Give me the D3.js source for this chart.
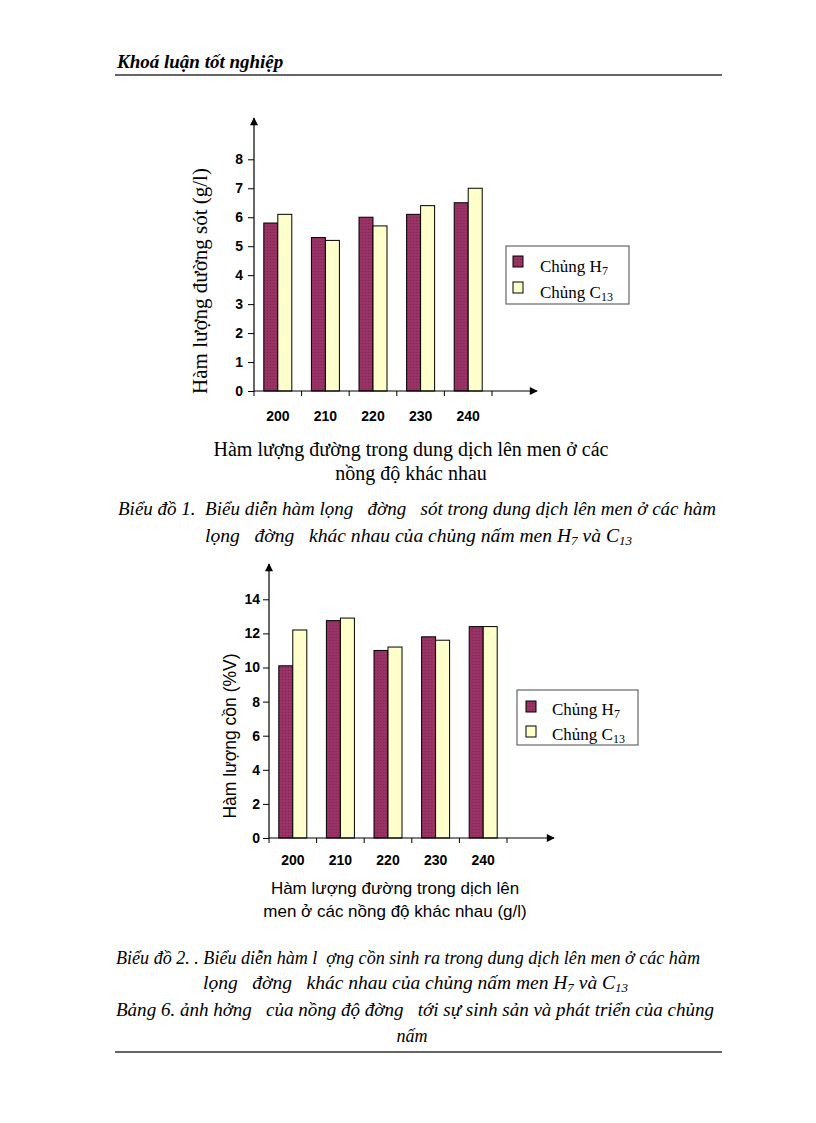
<!DOCTYPE html>
<html><head><meta charset="utf-8">
<script src="https://cdn.jsdelivr.net/npm/d3@7"></script>
<style>body{margin:0;background:#fff}svg{display:block}</style>
</head><body>
<svg id="page" width="816" height="1123"></svg>
<script>
const categories = ["200","210","220","230","240"];
const seriesNames = ["H7","C13"];
const h7Sugar = [5.8,5.3,6.0,6.1,6.5];
const c13Sugar = [6.1,5.2,5.7,6.4,7.0];
const sugarTicks = [0,1,2,3,4,5,6,7,8];
const h7Alcohol = [10.1,12.75,11.0,11.8,12.4];
const c13Alcohol = [12.2,12.9,11.2,11.6,12.4];
const alcoholTicks = [0,2,4,6,8,10,12,14];

const colors = {H7:"#993366", C13:"#FFFFCC"};
const serif = "'Liberation Serif','Times New Roman',serif";
const sans = "'Liberation Sans',Arial,sans-serif";

const svg = d3.select("#page");
const defs = svg.append("defs");
defs.append("marker").attr("id","arrow").attr("viewBox","0 0 10 10")
  .attr("refX",9).attr("refY",5).attr("markerWidth",10).attr("markerHeight",8)
  .attr("markerUnits","userSpaceOnUse").attr("orient","auto")
  .append("path").attr("d","M0,0L10,5L0,10Z").attr("fill","#000");
const pat = defs.append("pattern").attr("id","dots").attr("width",3).attr("height",3).attr("patternUnits","userSpaceOnUse");
pat.append("rect").attr("width",3).attr("height",3).attr("fill","#993366");
pat.append("rect").attr("x",1).attr("y",1).attr("width",1).attr("height",1).attr("fill","#7a2450");

// header
svg.append("text").attr("x",117).attr("y",68).attr("font-family",serif)
  .attr("font-style","italic").attr("font-weight","bold").attr("font-size",19).text("Khoá luận tốt nghiệp");
svg.append("line").attr("x1",115).attr("x2",722).attr("y1",75).attr("y2",75).attr("stroke","#333").attr("stroke-width",1.5);
svg.append("line").attr("x1",115).attr("x2",722).attr("y1",1052).attr("y2",1052).attr("stroke","#333").attr("stroke-width",1.5);

function drawChart(o){
  const g = svg.append("g");
  const x = d3.scaleBand().domain(categories).range([o.x0,o.x1]).padding(0);
  const bw = x.bandwidth();
  const xi = d3.scaleBand().domain(seriesNames).range([(bw-28)/2,(bw+28)/2]).padding(0);
  const y = d3.scaleLinear().domain([0,o.ticks[o.ticks.length-1]]).range([o.yZero,o.yTopTick]);
  const data = categories.map((c,i)=>({c, vals:[{s:"H7",v:o.h7[i]},{s:"C13",v:o.c13[i]}]}));
  g.selectAll("g.grp").data(data).join("g").attr("transform",d=>`translate(${x(d.c)},0)`)
    .selectAll("rect").data(d=>d.vals).join("rect")
    .attr("x",d=>xi(d.s)).attr("width",xi.bandwidth())
    .attr("y",d=>y(d.v)).attr("height",d=>y(0)-y(d.v))
    .attr("fill",d=>d.s==="H7"?"url(#dots)":colors.C13)
    .attr("stroke","#000").attr("stroke-width",1);
  const ya = g.append("g").attr("transform",`translate(${o.x0},0)`)
    .call(d3.axisLeft(y).tickValues(o.ticks).tickSize(6).tickPadding(o.tpad));
  ya.select(".domain").remove();
  ya.selectAll("text").attr("font-family",sans).attr("font-weight","bold").attr("font-size",o.tfs).attr("fill","#000");
  g.append("line").attr("x1",o.x0).attr("x2",o.x0).attr("y1",o.yZero).attr("y2",o.arrowTop)
    .attr("stroke","#000").attr("stroke-width",1.2).attr("marker-end","url(#arrow)");
  g.append("line").attr("x1",o.x0).attr("x2",o.arrowRight).attr("y1",o.yZero).attr("y2",o.yZero)
    .attr("stroke","#000").attr("stroke-width",1.2).attr("marker-end","url(#arrow)");
  const bounds = categories.map(c=>x(c)).concat([x(categories[categories.length-1])+bw]);
  g.selectAll("line.xt").data(bounds).join("line").attr("class","xt")
    .attr("x1",d=>d).attr("x2",d=>d).attr("y1",o.yZero).attr("y2",o.yZero+5).attr("stroke","#000");
  const xa = g.append("g").attr("transform",`translate(0,${o.yZero})`)
    .call(d3.axisBottom(x).tickSize(0).tickPadding(o.xpad));
  xa.select(".domain").remove();
  xa.selectAll("text").attr("font-family",sans).attr("font-weight","bold").attr("font-size",o.tfs).attr("fill","#000");
  g.append("text").attr("transform",`translate(${o.ylx},${o.yly}) rotate(-90)`)
    .attr("text-anchor","middle").attr("font-family",o.ylFont).attr("font-size",o.ylfs).text(o.ylabel);
  o.xlabel.forEach((t,i)=>g.append("text").attr("x",o.xlx).attr("y",o.xly+i*o.xlgap)
    .attr("text-anchor","middle").attr("font-family",o.xlFont).attr("font-size",o.xlfs).text(t));
  const L = o.legend;
  g.append("rect").attr("x",L.x).attr("y",L.y).attr("width",L.w).attr("height",L.h)
    .attr("fill","#fff").attr("stroke","#666").attr("stroke-width",1.2);
  const items = [{s:"H7",label:"Chủng H",sub:"7"},{s:"C13",label:"Chủng C",sub:"13"}];
  items.forEach((it,i)=>{
    g.append("rect").attr("x",L.sx).attr("y",L.sy+i*L.gap).attr("width",10).attr("height",11)
      .attr("fill",it.s==="H7"?"url(#dots)":colors.C13).attr("stroke","#000");
    const t = g.append("text").attr("x",L.tx).attr("y",L.ty+i*L.gap).attr("font-family",serif).attr("font-size",17);
    t.append("tspan").text(it.label);
    t.append("tspan").attr("font-size",12).attr("dy",3).text(it.sub);
  });
}

drawChart({x0:254,x1:492,arrowRight:537,yZero:391,yTopTick:159.3,arrowTop:118,ticks:sugarTicks,
  h7:h7Sugar,c13:c13Sugar,tpad:5,tfs:14,xpad:20,
  ylabel:"Hàm lượng đường sót (g/l)",ylx:207,yly:281,ylFont:serif,ylfs:21,
  xlabel:["Hàm lượng đường trong dung dịch lên men ở các","nồng độ khác nhau"],xlx:411,xly:456,xlgap:24,xlFont:serif,xlfs:20,
  legend:{x:506,y:246,w:123,h:58,sx:513,sy:256,tx:540,ty:272,gap:26}});

drawChart({x0:269,x1:507,arrowRight:554,yZero:838,yTopTick:599.3,arrowTop:564,ticks:alcoholTicks,
  h7:h7Alcohol,c13:c13Alcohol,tpad:3,tfs:14,xpad:17,
  ylabel:"Hàm lượng cồn (%V)",ylx:236,yly:736,ylFont:sans,ylfs:17.5,
  xlabel:["Hàm lượng đường trong dịch lên","men ở các nồng độ khác nhau (g/l)"],xlx:395,xly:894,xlgap:23,xlFont:sans,xlfs:17,
  legend:{x:517,y:690,w:121,h:55,sx:526,sy:701,tx:552,ty:715,gap:25}});

function caption(y, parts, opts){
  const t = svg.append("text").attr("y",y).attr("font-family",serif).attr("font-style","italic").attr("font-size",18);
  if(opts.anchor==="start"){ t.attr("x",opts.x); } else { t.attr("x",opts.x).attr("text-anchor","middle"); }
  if(opts.len){ t.attr("textLength",opts.len).attr("lengthAdjust","spacingAndGlyphs"); }
  t.style("white-space","pre");
  parts.forEach(p=>{
    const s = t.append("tspan").text(p.t);
    if(p.sub){ s.attr("font-size",12).attr("dy",3); }
    if(p.up){ s.attr("dy",-3); }
  });
}
caption(515,[{t:"Biểu đồ 1.  Biểu diễn hàm lọng   đờng   sót trong dung dịch lên men ở các hàm"}],{anchor:"start",x:118,len:598});
caption(542,[{t:"lọng   đờng   khác nhau của chủng nấm men H"},{t:"7",sub:1},{t:" và C",up:1},{t:"13",sub:1}],{anchor:"start",x:205,len:427});
caption(964,[{t:"Biểu đồ 2. . Biểu diễn hàm l  ợng cồn sinh ra trong dung dịch lên men ở các hàm"}],{anchor:"start",x:116,len:584});
caption(989,[{t:"lọng   đờng   khác nhau của chủng nấm men H"},{t:"7",sub:1},{t:" và C",up:1},{t:"13",sub:1}],{anchor:"start",x:203,len:425});
caption(1016,[{t:"Bảng 6. ảnh hởng   của nồng độ đờng   tới sự sinh sản và phát triển của chủng"}],{anchor:"start",x:116,len:598});
caption(1042,[{t:"nấm"}],{x:412});
</script>
</body></html>
